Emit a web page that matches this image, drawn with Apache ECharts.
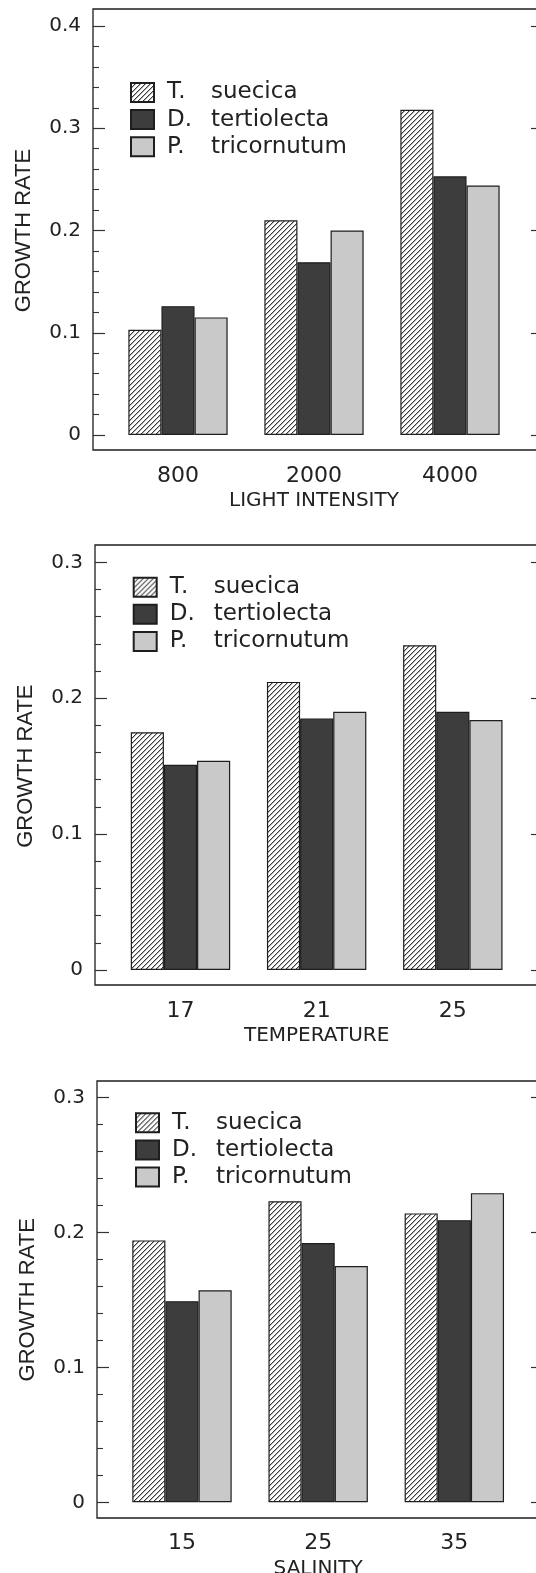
<!DOCTYPE html>
<html>
<head>
<meta charset="utf-8">
<script src="https://cdn.jsdelivr.net/npm/echarts@6/dist/echarts.min.js"></script>
<style>
  html, body { margin: 0; padding: 0; background: #fff; }
  #chart { width: 536px; height: 1573px; }
</style>
</head>
<body>
<div id="chart"></div>
<script>
// species (legend)
const speciesNames = ['T. suecica', 'D. tertiolecta', 'P. tricornutum']

// panel 1: light intensity
const lightCats = ['800', '2000', '4000']
const lightTS = [0.103, 0.21, 0.318]
const lightDT = [0.126, 0.169, 0.253]
const lightPT = [0.115, 0.2, 0.244]

// panel 2: temperature
const tempCats = ['17', '21', '25']
const tempTS = [0.175, 0.212, 0.239]
const tempDT = [0.151, 0.185, 0.19]
const tempPT = [0.154, 0.19, 0.184]

// panel 3: salinity
const salCats = ['15', '25', '35']
const salTS = [0.194, 0.223, 0.214]
const salDT = [0.149, 0.192, 0.209]
const salPT = [0.157, 0.175, 0.229]

const yMaxes = [0.4, 0.3, 0.3]
const xTitles = ['LIGHT INTENSITY', 'TEMPERATURE', 'SALINITY']
const yTitle = 'GROWTH RATE'

// layout (pixels)
const W = 536
const H = 1573
const FRAME_RIGHT = 542
const frames = [
  { left: 93, top: 9, bottom: 450 },
  { left: 95, top: 545, bottom: 985 },
  { left: 97, top: 1081, bottom: 1518 }
]
const plots = [
  { left: 110, right: 518, top: 26, bottom: 435 },
  { left: 112.4, right: 520.9, top: 562.3, bottom: 970 },
  { left: 113.9, right: 522.4, top: 1097.3, bottom: 1502.3 }
]
const legendPos = [
  { left: 130, top: 81 },
  { left: 132.7, top: 575.7 },
  { left: 135, top: 1111.3 }
]

const TEXT = '#222'
const LABEL_FONT = 'DejaVu Sans'

// diagonal hatch for T. suecica
function makeHatch() {
  const c = document.createElement('canvas')
  c.width = 5
  c.height = 5
  const g = c.getContext('2d')
  g.fillStyle = '#fff'
  g.fillRect(0, 0, 5, 5)
  for (let i = 0; i < 5; i++) {
    g.fillStyle = '#3a3a3a'
    g.fillRect(i, 4 - i, 1, 1)
    g.fillStyle = '#b0b0b0'
    g.fillRect(i, (5 - i) % 5, 1, 1)
  }
  return c
}

const hatch = makeHatch()
const styles = [
  { color: { image: hatch, repeat: 'repeat' }, borderColor: '#1e1e1e', borderWidth: 1.2 },
  { color: '#3d3d3d', borderColor: '#1e1e1e', borderWidth: 1.2 },
  { color: '#c9c9c9', borderColor: '#1e1e1e', borderWidth: 1.2 }
]

const panelData = [
  { cats: lightCats, vals: [lightTS, lightDT, lightPT] },
  { cats: tempCats, vals: [tempTS, tempDT, tempPT] },
  { cats: salCats, vals: [salTS, salDT, salPT] }
]

const grid = []
const xAxis = []
const yAxis = []
const series = []
const legend = []

panelData.forEach((p, k) => {
  const f = frames[k]
  const d = plots[k]

  // outer frame box
  grid.push({
    left: f.left, top: f.top,
    width: FRAME_RIGHT - f.left, height: f.bottom - f.top,
    show: true, borderColor: '#1e1e1e', borderWidth: 1.3,
    backgroundColor: 'transparent', outerBoundsMode: 'none'
  })
  // data area
  const dataIdx = grid.length
  grid.push({
    left: d.left, top: d.top,
    width: d.right - d.left, height: d.bottom - d.top,
    outerBoundsMode: 'none'
  })

  xAxis.push({
    type: 'category', gridIndex: dataIdx, data: p.cats, position: 'bottom',
    axisLine: { show: false }, axisTick: { show: false },
    axisLabel: { margin: 30, fontFamily: LABEL_FONT, fontSize: 22, color: TEXT },
    name: xTitles[k], nameLocation: 'middle', nameGap: 56,
    nameTextStyle: { fontFamily: LABEL_FONT, fontSize: 20, color: TEXT }
  })

  const leftAxisIdx = yAxis.length
  yAxis.push({
    type: 'value', gridIndex: dataIdx, position: 'left',
    min: 0, max: yMaxes[k], interval: 0.1,
    offset: d.left - f.left,
    axisLine: { show: false },
    axisTick: { show: true, inside: true, length: 12, lineStyle: { color: '#333', width: 1.2 } },
    minorTick: { show: true, splitNumber: 5, length: 6, lineStyle: { color: '#333', width: 1.1 } },
    splitLine: { show: false },
    axisLabel: {
      margin: 12, fontFamily: LABEL_FONT, fontSize: 20, color: TEXT,
      formatter: v => (v === 0 ? '0' : v.toFixed(1))
    },
    name: yTitle, nameLocation: 'middle', nameGap: 58,
    nameTextStyle: { fontFamily: 'Liberation Sans', fontSize: 22, color: TEXT }
  })
  yAxis.push({
    type: 'value', gridIndex: dataIdx, position: 'right',
    min: 0, max: yMaxes[k], interval: 0.1,
    offset: FRAME_RIGHT - d.right,
    axisLine: { show: false },
    axisTick: { show: true, inside: true, length: 11, lineStyle: { color: '#333', width: 1.2 } },
    axisLabel: { show: false },
    splitLine: { show: false }
  })

  p.vals.forEach((vals, i) => {
    series.push({
      type: 'bar', name: speciesNames[i],
      xAxisIndex: k, yAxisIndex: leftAxisIdx,
      data: vals,
      barGap: '0%', barCategoryGap: '27%',
      itemStyle: styles[i],
      emphasis: { disabled: true }
    })
  })

  legend.push({
    left: legendPos[k].left, top: legendPos[k].top,
    orient: 'vertical', padding: 0,
    itemWidth: 23, itemHeight: 19, itemGap: 4.1,
    icon: 'rect', selectedMode: false,
    data: speciesNames,
    formatter: name => {
      const parts = name.split(' ')
      return '{a|' + parts[0] + '}{b|' + parts[1] + '}'
    },
    textStyle: {
      fontFamily: LABEL_FONT, fontSize: 23, color: TEXT, lineHeight: 19,
      rich: {
        a: { width: 44, padding: [0, 0, 0, 8], fontFamily: LABEL_FONT, fontSize: 23, color: TEXT, lineHeight: 19 },
        b: { fontFamily: LABEL_FONT, fontSize: 23, color: TEXT, lineHeight: 19 }
      }
    }
  })
})

const chart = echarts.init(document.getElementById('chart'), null, { renderer: 'canvas', width: W, height: H })
chart.setOption({
  animation: false,
  backgroundColor: '#fff',
  grid,
  xAxis,
  yAxis,
  legend,
  series
})
</script>
</body>
</html>
